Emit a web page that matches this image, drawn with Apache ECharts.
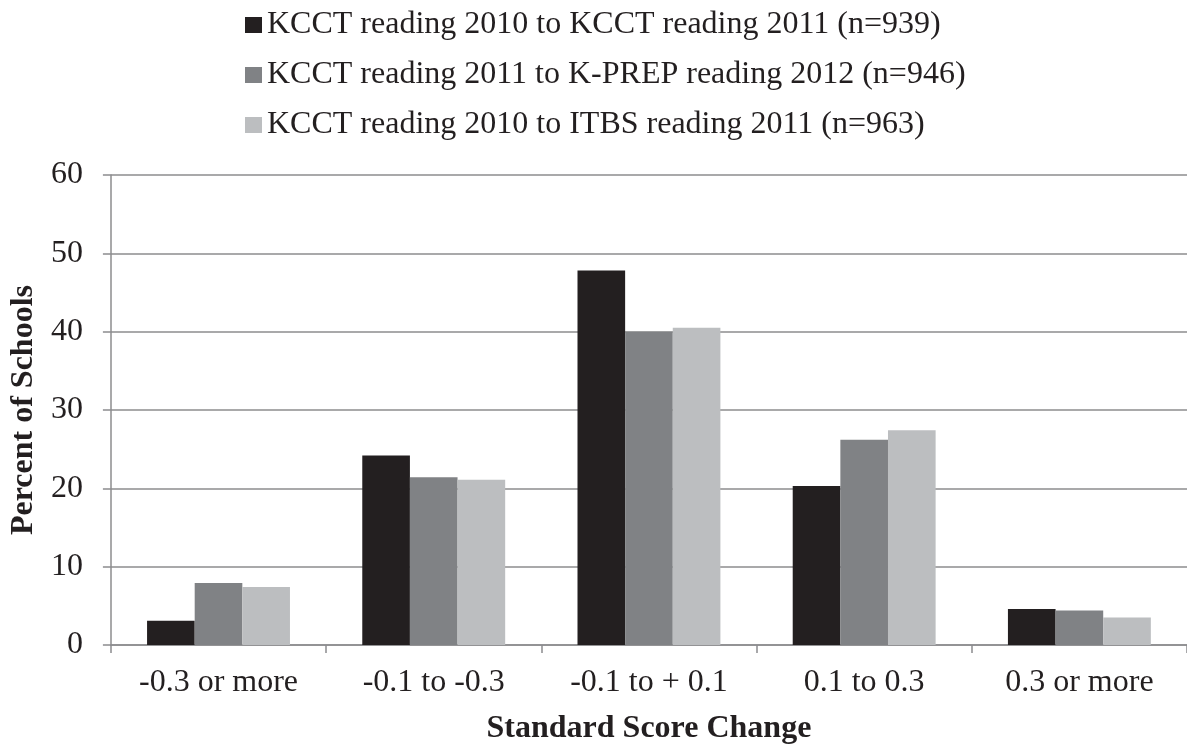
<!DOCTYPE html>
<html>
<head>
<meta charset="utf-8">
<script src="https://cdn.jsdelivr.net/npm/echarts@6/dist/echarts.min.js"></script>
<style>
html,body{margin:0;padding:0;background:#fff;}
#c{width:1187px;height:750px;}
</style>
</head>
<body>
<div id="c"></div>
<script>
const categories = ['-0.3 or more', '-0.1 to -0.3', '-0.1 to + 0.1', '0.1 to 0.3', '0.3 or more'];
const seriesNames = [
  'KCCT reading 2010 to KCCT reading 2011 (n=939)',
  'KCCT reading 2011 to K-PREP reading 2012 (n=946)',
  'KCCT reading 2010 to ITBS reading 2011 (n=963)'
];
const kcct10to11 = [3.1, 24.2, 47.8, 20.3, 4.6];
const kcct11toKprep12 = [7.9, 21.4, 40.0, 26.2, 4.4];
const kcct10toItbs11 = [7.4, 21.1, 40.5, 27.4, 3.5];
const yTicks = { min: 0, max: 60, interval: 10 };
const xAxisTitle = 'Standard Score Change';
const yAxisTitle = 'Percent of Schools';

const colors = ['#231f20', '#808285', '#bcbec0'];
const font = '"Liberation Serif", "Times New Roman", serif';
const textColor = '#231f20';
const lineColor = '#8c8c8e';

const chart = echarts.init(document.getElementById('c'), null, { renderer: 'canvas' });
const values = [kcct10to11, kcct11toKprep12, kcct10toItbs11];

chart.setOption({
  animation: false,
  backgroundColor: '#ffffff',
  color: colors,
  legend: {
    orient: 'vertical',
    left: 240,
    top: 4,
    itemWidth: 17,
    itemHeight: 16,
    itemGap: 18,
    icon: 'rect',
    textStyle: { fontFamily: font, fontSize: 32, color: textColor, lineHeight: 32 },
    data: seriesNames
  },
  grid: { left: 108, right: -3, top: 175, bottom: 103, containLabel: false },
  xAxis: {
    type: 'category',
    data: categories,
    name: xAxisTitle,
    nameLocation: 'middle',
    nameGap: 68,
    nameTextStyle: { fontFamily: font, fontSize: 32, fontWeight: 'bold', color: textColor },
    axisLine: { show: true, lineStyle: { color: lineColor, width: 1.5 } },
    axisTick: { show: true, length: 8, lineStyle: { color: lineColor, width: 1.5 } },
    axisLabel: { fontFamily: font, fontSize: 32, color: textColor, margin: 22 },
    splitLine: { show: false }
  },
  yAxis: {
    type: 'value',
    min: yTicks.min,
    max: yTicks.max,
    interval: yTicks.interval,
    name: yAxisTitle,
    nameLocation: 'middle',
    nameGap: 70,
    nameRotate: 90,
    nameTextStyle: { fontFamily: font, fontSize: 32, fontWeight: 'bold', color: textColor },
    axisLine: { show: true, lineStyle: { color: lineColor, width: 1.5 } },
    axisTick: { show: true, length: 8, lineStyle: { color: lineColor, width: 1.5 } },
    axisLabel: { fontFamily: font, fontSize: 32, color: textColor, margin: 28 },
    splitLine: { show: true, lineStyle: { color: lineColor, width: 1.5 } }
  },
  series: seriesNames.map((name, i) => ({
    name: name,
    type: 'bar',
    data: values[i],
    barGap: '0%',
    barCategoryGap: '33.6%',
    itemStyle: { color: colors[i] }
  }))
});
</script>
</body>
</html>
